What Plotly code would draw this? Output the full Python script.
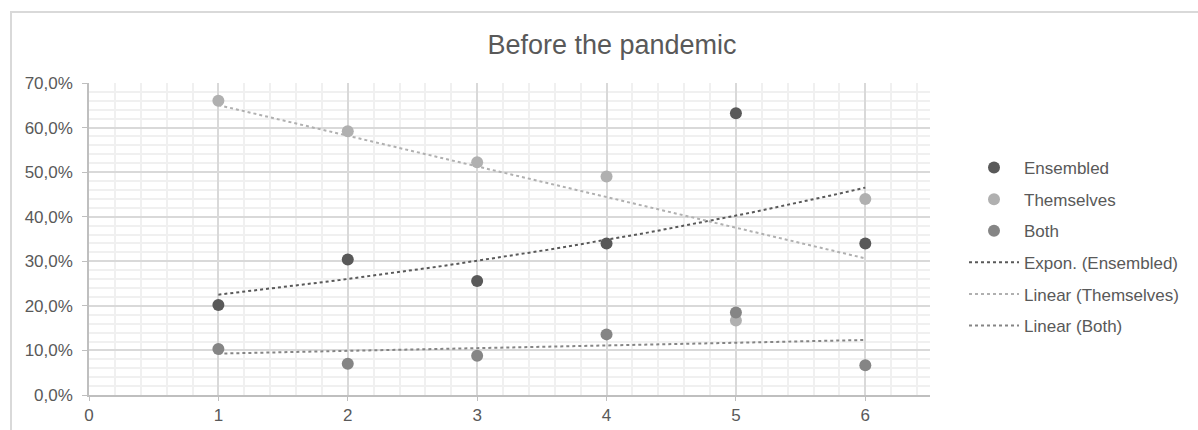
import numpy as np
import plotly.graph_objects as go

# ---- data ----
x_vals = [1, 2, 3, 4, 5, 6]
ensembled = [0.202, 0.304, 0.256, 0.340, 0.632, 0.340]
themselves = [0.660, 0.592, 0.522, 0.490, 0.167, 0.440]
both = [0.103, 0.070, 0.088, 0.136, 0.185, 0.067]
x_ticks = [0, 1, 2, 3, 4, 5, 6]

c_ens = "#595959"
c_them = "#b0b0b0"
c_both = "#858585"
txt = "#595959"

xa = np.array(x_vals, dtype=float)
# exponential trend for Ensembled
b, ln_a = np.polyfit(xa, np.log(ensembled), 1)
xt = np.linspace(1, 6, 60)
ens_trend = np.exp(ln_a + b * xt)
# linear trends
m1, c1 = np.polyfit(xa, themselves, 1)
m2, c2 = np.polyfit(xa, both, 1)
them_trend = m1 * xt + c1
both_trend = m2 * xt + c2

fig = go.Figure()
fig.add_trace(go.Scatter(x=x_vals, y=ensembled, mode="markers", name="Ensembled",
                         legendgroup="g1", marker=dict(color=c_ens, size=12)))
fig.add_trace(go.Scatter(x=x_vals, y=themselves, mode="markers", name="Themselves",
                         legendgroup="g2", marker=dict(color=c_them, size=12)))
fig.add_trace(go.Scatter(x=x_vals, y=both, mode="markers", name="Both",
                         legendgroup="g3", marker=dict(color=c_both, size=12)))
fig.add_trace(go.Scatter(x=xt, y=ens_trend, mode="lines", name="Expon. (Ensembled)",
                         legendgroup="g4", line=dict(color=c_ens, width=2, dash="dot")))
fig.add_trace(go.Scatter(x=xt, y=them_trend, mode="lines", name="Linear (Themselves)",
                         legendgroup="g5", line=dict(color=c_them, width=2, dash="dot")))
fig.add_trace(go.Scatter(x=xt, y=both_trend, mode="lines", name="Linear (Both)",
                         legendgroup="g6", line=dict(color=c_both, width=2, dash="dot")))

L, R, T, B = 89, 268, 83, 35
W, H = 1198, 430
pw, ph = W - L - R, H - T - B

fig.update_layout(
    width=W, height=H,
    margin=dict(l=L, r=R, t=T, b=B),
    paper_bgcolor="white", plot_bgcolor="white",
    separators=", ",
    font=dict(family="Liberation Sans, Arial, sans-serif", size=17, color=txt),
    title=dict(text="Before the pandemic", x=(612 - L) / pw, xref="paper",
               xanchor="center", y=1 - 45 / H, yanchor="middle",
               font=dict(size=27, color=txt)),
    showlegend=True,
    legend=dict(x=(964 - L) / pw, xanchor="left", y=(H - B - 150) / ph, yanchor="top",
                tracegroupgap=6.5, itemwidth=50, font=dict(size=17, color=txt),
                bgcolor="rgba(0,0,0,0)"),
    xaxis=dict(range=[0, 6.5], tickvals=x_ticks, showgrid=True, gridcolor="#d9d9d9",
               gridwidth=1.5, zeroline=False, showline=True, linecolor="#bfbfbf", linewidth=1.5,
               ticks="outside", ticklen=4, tickcolor="#bfbfbf", automargin=False,
               minor=dict(dtick=0.2, showgrid=True, gridcolor="#f0f0f0", gridwidth=1.5),
               tickfont=dict(size=17, color=txt)),
    yaxis=dict(range=[0, 0.7], dtick=0.1, tickformat=".1%", showgrid=True, gridcolor="#d9d9d9",
               gridwidth=1.5, zeroline=False, showline=True, linecolor="#bfbfbf", linewidth=1.5,
               ticks="outside", ticklen=5, tickcolor="#bfbfbf", automargin=False,
               ticklabelstandoff=6,
               minor=dict(dtick=0.02, showgrid=True, gridcolor="#f0f0f0", gridwidth=1.5),
               tickfont=dict(size=17, color=txt)),
    shapes=[dict(type="rect", xref="paper", yref="paper",
                 x0=(11 - L) / pw, x1=(W + 5 - L) / pw,
                 y0=(H - B - (H + 5)) / ph, y1=(H - B - 12) / ph,
                 line=dict(color="#d9d9d9", width=2), fillcolor="rgba(0,0,0,0)", layer="below")],
)

fig.write_html("out.html")
